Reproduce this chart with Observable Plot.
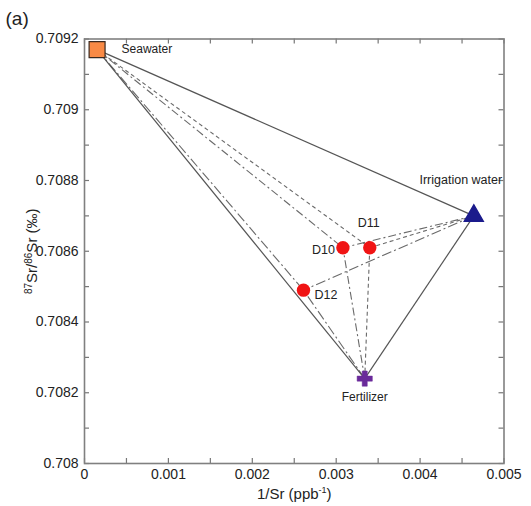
<!DOCTYPE html>
<html>
<head>
<meta charset="utf-8">
<script src="https://cdn.jsdelivr.net/npm/d3@7"></script>
<script src="https://cdn.jsdelivr.net/npm/@observablehq/plot@0.6"></script>
<style>
  body { margin: 0; background: #fff; }
</style>
</head>
<body>
<div id="chart"></div>
<script>
// Endmembers
const endNames = ["Seawater", "Irrigation water", "Fertilizer"];
const endX = [0.00015, 0.00464, 0.00334];
const endY = [0.70917, 0.7087, 0.70824];
// Samples
const sampleNames = ["D10", "D11", "D12"];
const sampleX = [0.00308, 0.0034, 0.00261];
const sampleY = [0.70861, 0.70861, 0.70849];
// Ticks
const xTicks = [0, 0.001, 0.002, 0.003, 0.004, 0.005];
const xTickLabels = ["0", "0.001", "0.002", "0.003", "0.004", "0.005"];
const xMinor = [0.0005, 0.0015, 0.0025, 0.0035, 0.0045];
const yTicks = [0.708, 0.7082, 0.7084, 0.7086, 0.7088, 0.709, 0.7092];
const yTickLabels = ["0.708", "0.7082", "0.7084", "0.7086", "0.7088", "0.709", "0.7092"];
const yMinor = [0.7081, 0.7083, 0.7085, 0.7087, 0.7089, 0.7091];

const ends = endNames.map((n, i) => ({name: n, x: endX[i], y: endY[i]}));
const samples = sampleNames.map((n, i) => ({name: n, x: sampleX[i], y: sampleY[i]}));

const W = 531, H = 506;
const mL = 84, mR = 27.5, mT = 38.5, mB = 43;
const pw = W - mL - mR, ph = H - mT - mB;

// solid triangle edges
const edges = [[0, 1], [0, 2], [1, 2]].map(([a, b]) => ({x1: endX[a], y1: endY[a], x2: endX[b], y2: endY[b]}));
function mixLines(si) {
  return ends.map(e => ({x1: e.x, y1: e.y, x2: sampleX[si], y2: sampleY[si]}));
}
const dashes = {"D10": "8,3,2,3", "D11": "4,3", "D12": "10,3,2,3"};

const yAll = yTicks.concat(yMinor);
const xAll = xTicks.concat(xMinor);
const tk = 5;

const plot = Plot.plot({
  width: W, height: H,
  marginLeft: mL, marginRight: mR, marginTop: mT, marginBottom: mB,
  style: {fontFamily: "'Liberation Sans', Arial, sans-serif", fontSize: "14px", color: "#222"},
  x: {domain: [0, 0.005]},
  y: {domain: [0.708, 0.7092]},
  marks: [
    Plot.axisX(xTicks, {tickSize: 0, tickPadding: 6, tickFormat: (d, i) => xTickLabels[xTicks.indexOf(d)], fontSize: 14,
      label: "1/Sr (ppb-1)", labelAnchor: "center", labelArrow: "none", labelOffset: 35}),
    Plot.axisY(yTicks, {tickSize: 0, tickPadding: 6, tickFormat: d => yTickLabels[yTicks.indexOf(d)], fontSize: 14,
      label: "87Sr/86Sr (‰)", labelAnchor: "center", labelArrow: "none", labelOffset: 58}),
    // inward ticks
    Plot.ruleY(yAll, {y: d => d, insetRight: pw - tk, stroke: "#777", strokeWidth: 1.2}),
    Plot.ruleY(yAll, {y: d => d, insetLeft: pw - tk, stroke: "#777", strokeWidth: 1.2}),
    Plot.ruleX(xAll, {x: d => d, insetTop: ph - tk, stroke: "#777", strokeWidth: 1.2}),
    Plot.ruleX(xAll, {x: d => d, insetBottom: ph - tk, stroke: "#777", strokeWidth: 1.2}),
    Plot.frame({stroke: "#808080", strokeWidth: 1.6}),
    // mixing lines
    ...sampleNames.map((n, si) => Plot.link(mixLines(si), {x1: "x1", y1: "y1", x2: "x2", y2: "y2",
      stroke: "#6a6a6a", strokeWidth: 1.1, strokeDasharray: dashes[n]})),
    Plot.link(edges, {x1: "x1", y1: "y1", x2: "x2", y2: "y2", stroke: "#555", strokeWidth: 1.2}),
    // endmember symbols
    Plot.dot([ends[0]], {x: "x", y: "y", symbol: "square", r: 9, fill: "#F98A45", stroke: "#3a2a20", strokeWidth: 1.2}),
    Plot.dot([ends[1]], {x: "x", y: "y", symbol: "triangle", r: 7, fill: "#1B1B8C", stroke: "#1B1B8C"}),
    Plot.dot([ends[2]], {x: "x", y: "y", symbol: "cross", r: 6.4, fill: "#6A2A9A", stroke: "#6A2A9A", strokeWidth: 0.5}),
    Plot.dot(samples, {x: "x", y: "y", r: 6.7, fill: "#F01414", stroke: "none"}),
    // labels
    Plot.text([ends[0]], {x: "x", y: "y", text: "name", dx: 24.5, dy: 0, textAnchor: "start", fontSize: 12, fill: "#222"}),
    Plot.text([ends[1]], {x: "x", y: "y", text: "name", dx: -13, dy: -36, textAnchor: "middle", fontSize: 12.5, fill: "#222"}),
    Plot.text([ends[2]], {x: "x", y: "y", text: "name", dx: 0, dy: 19, textAnchor: "middle", fontSize: 12, fill: "#222"}),
    Plot.text([samples[0]], {x: "x", y: "y", text: "name", dx: -8, dy: 2, textAnchor: "end", fontSize: 12.5, fill: "#222"}),
    Plot.text([samples[1]], {x: "x", y: "y", text: "name", dx: -1, dy: -25, textAnchor: "middle", fontSize: 12.5, fill: "#222"}),
    Plot.text([samples[2]], {x: "x", y: "y", text: "name", dx: 11, dy: 5, textAnchor: "start", fontSize: 12.5, fill: "#222"}),
    Plot.text(["(a)"], {frameAnchor: "top-left", text: d => d, dx: -79, dy: -20, lineAnchor: "middle", textAnchor: "start", fontSize: 19, fill: "#222"})
  ]
});
document.getElementById("chart").appendChild(plot);

// superscripts in axis labels
const yl = d3.select(plot).select('g[aria-label="y-axis label"] text');
if (!yl.empty()) {
  yl.style("font-size", "15px");
  yl.html('<tspan font-size="10" dy="-5">87</tspan><tspan dy="5">Sr/</tspan><tspan font-size="10" dy="-5">86</tspan><tspan dy="5">Sr (‰)</tspan>');
}
const xl = d3.select(plot).select('g[aria-label="x-axis label"] text');
if (!xl.empty()) {
  xl.style("font-size", "15px");
  xl.html('<tspan>1/Sr (ppb</tspan><tspan font-size="9" dy="-6">-1</tspan><tspan dy="6">)</tspan>');
}
</script>
</body>
</html>
